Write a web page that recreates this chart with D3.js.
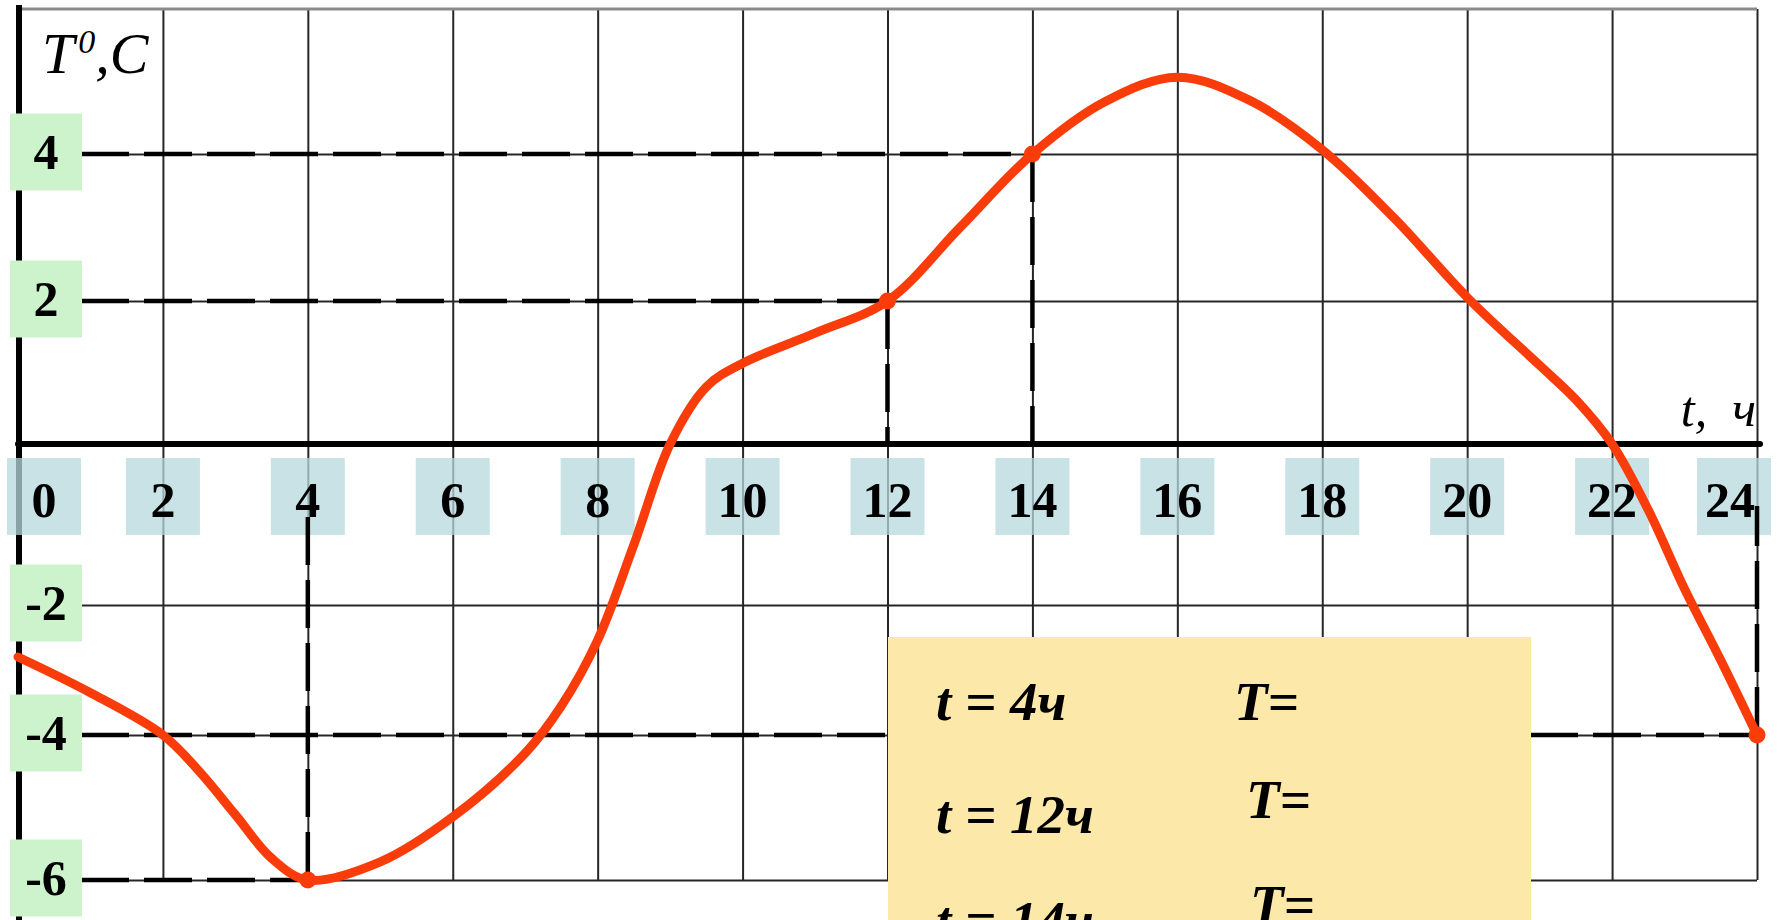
<!DOCTYPE html>
<html>
<head>
<meta charset="utf-8">
<script src="https://cdn.jsdelivr.net/npm/d3@7"></script>
<style>
  html, body { margin: 0; padding: 0; background: #fff; overflow: hidden; }
  text { font-family: "Liberation Serif", "Times New Roman", serif; }
</style>
</head>
<body>
<svg id="chart" width="1777" height="920"></svg>
<script>
// Air temperature over one day (hours → °C)
const hours = [0, 1, 2, 2.5, 3, 3.5, 4, 5, 6, 7, 7.5, 8, 8.5, 9, 9.5, 10, 11, 12,
               13, 14, 15, 16, 17, 18, 19, 20, 21, 21.5, 22, 22.5, 23, 23.5, 24];
const temps = [-2.8, -3.35, -4, -4.5, -5.1, -5.7, -6, -5.75, -5.13, -4.25, -3.55, -2.54, -1.25, 0, 0.8, 1.13, 1.55, 2,
               3.0, 4, 4.72, 5.06, 4.74, 4.06, 3.12, 2.05, 1.1, 0.62, 0, -0.82, -1.8, -2.85, -4];

// Readings marked on the graph
const markedHours = [4, 12, 14, 24];
const markedTemps = [-6, 2, 4, -4];

// Axis ticks
const xTickLabels = [0, 2, 4, 6, 8, 10, 12, 14, 16, 18, 20, 22, 24];
const yTickLabels = [4, 2, -2, -4, -6];
const yGridLevels = [6, 4, 2, 0, -2, -4, -6];

// Questions in the answer panel
const questionHours = [4, 12, 14];

const svg = d3.select("#chart");
const W = 1777, H = 920;

const x = d3.scaleLinear().domain([0, 24]).range([18, 1757]);
const y = d3.scaleLinear().domain(yGridLevels).range([9, 154, 301, 444, 605, 735, 880]);

const RED = "#fa3c0a";
const GRID = "#262626";

// ---- grid ----
const vGrid = svg.append("g")
  .attr("transform", `translate(0,${y(-6)})`)
  .call(d3.axisBottom(x).tickValues(xTickLabels.filter(d => d > 0))
        .tickSize(-(y(-6) - y(6))).tickFormat(""));
vGrid.select(".domain").remove();
vGrid.selectAll(".tick line").attr("stroke", GRID).attr("stroke-width", 2);

const hGrid = svg.append("g")
  .attr("transform", `translate(${x(0)},0)`)
  .call(d3.axisLeft(y).tickValues(yTickLabels)
        .tickSize(-(x(24) - x(0))).tickFormat(""));
hGrid.select(".domain").remove();
hGrid.selectAll(".tick line").attr("stroke", GRID).attr("stroke-width", 2);

// top border
svg.append("line")
  .attr("x1", x(0)).attr("x2", x(24)).attr("y1", y(6)).attr("y2", y(6))
  .attr("stroke", "#8a8a8a").attr("stroke-width", 3);

// ---- dashed guides from the axes to the marked readings ----
const marks = markedHours.map((h, i) => ({ h, t: markedTemps[i] }));
const dashed = sel => sel.attr("stroke", "#000").attr("stroke-width", 4.5)
  .attr("stroke-dasharray", "48 15").attr("fill", "none");

const guides = svg.append("g");
marks.forEach(m => {
  guides.append("line")
    .attr("x1", x(0)).attr("x2", x(m.h))
    .attr("y1", y(m.t)).attr("y2", y(m.t))
    .call(dashed);
});
marks.filter(m => m.t > 0).forEach(m => {
  guides.append("line")
    .attr("x1", x(m.h)).attr("x2", x(m.h))
    .attr("y1", y(m.t)).attr("y2", y(0))
    .call(dashed);
});

// ---- answer panel ----
const panel = svg.append("g");
panel.append("rect")
  .attr("x", 888).attr("y", 637).attr("width", 643).attr("height", H - 637 + 10)
  .attr("fill", "#fce9a9");

const tBase = [720, 833, 939];
const TBase = [720, 818, 923];
const TLeft = [1234, 1246, 1250];
questionHours.forEach((h, i) => {
  panel.append("text")
    .attr("x", 936).attr("y", tBase[i])
    .attr("font-size", 55).attr("font-weight", "bold").attr("font-style", "italic")
    .style("white-space", "pre")
    .text(`t = ${h}ч`);
  panel.append("text")
    .attr("x", TLeft[i]).attr("y", TBase[i])
    .attr("font-size", 55).attr("font-weight", "bold").attr("font-style", "italic")
    .text("T=");
});

// ---- axes ----
svg.append("line")
  .attr("x1", 19).attr("x2", 19).attr("y1", y(6) - 4).attr("y2", H)
  .attr("stroke", "#000").attr("stroke-width", 6);
svg.append("line")
  .attr("x1", x(0)).attr("x2", x(24) + 3).attr("y1", y(0)).attr("y2", y(0))
  .attr("stroke", "#000").attr("stroke-width", 6).attr("stroke-linecap", "round");

// hour labels in tinted boxes
const xLab = svg.append("g");
const boxW = 74, boxH = 77, fs = 50;
xTickLabels.forEach(h => {
  const cx = Math.max(44, Math.min(1734, x(h)));
  xLab.append("rect")
    .attr("x", cx - boxW / 2).attr("y", 458).attr("width", boxW).attr("height", boxH)
    .attr("fill", "rgb(182,216,222)").attr("fill-opacity", 0.75);
});

// vertical guides for the readings below zero run up to the hour labels
marks.filter(m => m.t < 0).forEach(m => {
  svg.append("line")
    .attr("x1", x(m.h)).attr("x2", x(m.h))
    .attr("y1", y(m.t)).attr("y2", y(0) + 62)
    .call(dashed);
});

xTickLabels.forEach(h => {
  const cx = Math.max(44, Math.min(1730, x(h)));
  xLab.append("text")
    .attr("x", cx).attr("y", 517)
    .attr("text-anchor", "middle")
    .attr("font-size", fs).attr("font-weight", "bold")
    .text(h);
});

// temperature labels in green boxes
const yLab = svg.append("g");
yTickLabels.forEach(t => {
  const cy = y(t) - 2;
  yLab.append("rect")
    .attr("x", 10).attr("y", cy - boxH / 2).attr("width", 72).attr("height", boxH)
    .attr("fill", "#cdf3cd");
  yLab.append("text")
    .attr("x", 46).attr("y", cy + 17)
    .attr("text-anchor", "middle")
    .attr("font-size", fs).attr("font-weight", "bold")
    .text(t);
});

// axis titles
const yTitle = svg.append("text")
  .attr("x", 42).attr("y", 73)
  .attr("font-size", 58).attr("font-style", "italic");
yTitle.append("tspan").text("T");
yTitle.append("tspan").attr("font-size", 34).attr("dy", -20).attr("dx", 4).text("0");
yTitle.append("tspan").attr("dy", 20).text(",C");

svg.append("text")
  .attr("x", 1756).attr("y", 426)
  .attr("text-anchor", "end")
  .attr("font-size", 50).attr("font-style", "italic")
  .style("white-space", "pre")
  .text("t,  ч");

// ---- temperature curve ----
const series = hours.map((h, i) => [h, temps[i]]);
svg.append("path")
  .datum(series)
  .attr("fill", "none")
  .attr("stroke", RED).attr("stroke-width", 9)
  .attr("stroke-linecap", "round").attr("stroke-linejoin", "round")
  .attr("d", d3.line().x(d => x(d[0])).y(d => y(d[1])).curve(d3.curveCatmullRom.alpha(0.5)));

svg.append("g").selectAll("circle")
  .data(marks).join("circle")
  .attr("cx", d => x(d.h)).attr("cy", d => y(d.t)).attr("r", 8.5)
  .attr("fill", RED);
</script>
</body>
</html>
